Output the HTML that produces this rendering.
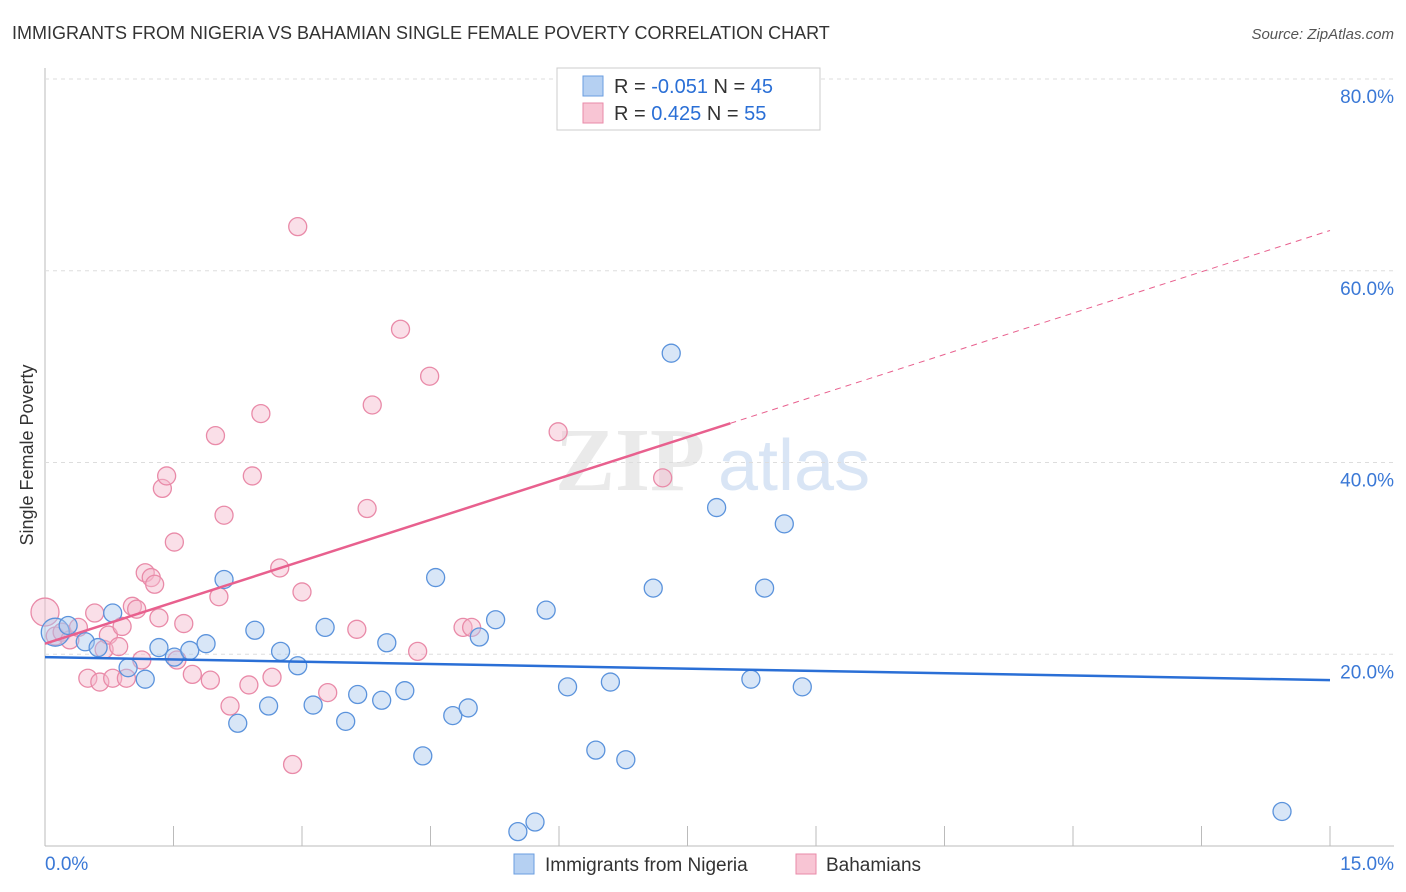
<!DOCTYPE html>
<html><head><meta charset="utf-8"><style>
body{margin:0;background:#fff;font-family:"Liberation Sans",sans-serif}
</style></head><body>
<svg id="c" width="1406" height="892" style="display:block">
<text x="12" y="39" font-size="18" fill="#333">IMMIGRANTS FROM NIGERIA VS BAHAMIAN SINGLE FEMALE POVERTY CORRELATION CHART</text>
<text x="1394" y="39" font-size="15" fill="#555" font-style="italic" text-anchor="end">Source: ZipAtlas.com</text>
<text x="33" y="455" font-size="18" fill="#333" text-anchor="middle" transform="rotate(-90 33 455)">Single Female Poverty</text>
<g><text x="555" y="490" font-size="90" fill="#ddd" font-family="Liberation Serif" font-weight="bold" opacity="0.6">ZIP</text><text x="718" y="490" font-size="72" fill="#c9dbf2" opacity="0.7">atlas</text></g>
<g id="grid"></g><g id="pts"></g><g id="trends"></g>
<g>
<rect x="557" y="68" width="263" height="62" fill="#fff" stroke="#ccc"/>
<rect x="583" y="76" width="20" height="20" fill="#b5d0f2" stroke="#6a9ee0"/>
<text x="614" y="93" font-size="20" fill="#333">R = <tspan fill="#2a6fd6">-0.051</tspan>   N = <tspan fill="#2a6fd6">45</tspan></text>
<rect x="583" y="103" width="20" height="20" fill="#f8c5d4" stroke="#e98aa8"/>
<text x="614" y="120" font-size="20" fill="#333">R =  <tspan fill="#2a6fd6">0.425</tspan>   N = <tspan fill="#2a6fd6">55</tspan></text>
</g>
<g>
<rect x="514" y="854" width="20" height="20" fill="#b5d0f2" stroke="#6a9ee0"/>
<text x="545" y="871" font-size="19" fill="#333">Immigrants from Nigeria</text>
<rect x="796" y="854" width="20" height="20" fill="#f8c5d4" stroke="#e98aa8"/>
<text x="826" y="871" font-size="19" fill="#333">Bahamians</text>
</g>
</svg>
<script>
const xTicks=[0,15];
const yTicks=[20,40,60,80];
const blueX=[0.12,0.27,0.47,0.62,0.79,0.97,1.17,1.33,1.51,1.69,1.88,2.09,2.25,2.45,2.61,2.75,2.95,3.13,3.27,3.51,3.65,3.93,3.99,4.20,4.41,4.56,4.76,4.94,5.07,5.26,5.52,5.72,5.85,6.10,6.43,6.60,6.78,7.10,7.31,7.84,8.24,8.40,8.63,8.84,14.44];
const blueY=[22.3,23.0,21.3,20.7,24.3,18.6,17.4,20.7,19.7,20.4,21.1,27.8,12.8,22.5,14.6,20.3,18.8,14.7,22.8,13.0,15.8,15.2,21.2,16.2,9.4,28.0,13.6,14.4,21.8,23.6,1.5,2.5,24.6,16.6,10.0,17.1,9.0,26.9,51.4,35.3,17.4,26.9,33.6,16.6,3.6];
const pinkX=[0.0,0.12,0.2,0.29,0.39,0.5,0.58,0.64,0.69,0.74,0.79,0.86,0.9,0.95,1.02,1.07,1.13,1.17,1.24,1.28,1.33,1.37,1.42,1.51,1.54,1.62,1.72,1.93,1.99,2.03,2.09,2.16,2.38,2.42,2.52,2.65,2.74,2.89,2.95,3.0,3.3,3.64,3.76,3.82,4.15,4.35,4.49,4.88,4.98,5.99,7.21];
const pinkY=[24.4,21.9,22.3,21.5,22.8,17.5,24.3,17.1,20.5,22.0,17.5,20.8,22.9,17.5,25.0,24.7,19.4,28.5,28.0,27.3,23.8,37.3,38.6,31.7,19.4,23.2,17.9,17.3,42.8,26.0,34.5,14.6,16.8,38.6,45.1,17.6,29.0,8.5,64.6,26.5,16.0,22.6,35.2,46.0,53.9,20.3,49.0,22.8,22.8,43.2,38.4];
const blueTrend=[-0.051,19.7,17.3];
const pinkTrend=[0.425,21.1,64.2];
const NS='http://www.w3.org/2000/svg';
const X0=45,X1=1330,Y0=846,Y80=79;
const sx=v=>X0+(X1-X0)*v/15, sy=v=>Y0-(Y0-Y80)*v/80;
function mk(t,a,p){const e=document.createElementNS(NS,t);for(const k in a)e.setAttribute(k,a[k]);p.appendChild(e);return e;}
const grid=document.getElementById('grid');
mk('line',{x1:45,y1:68,x2:45,y2:846,stroke:'#bbb'},grid);
mk('line',{x1:45,y1:846,x2:1394,y2:846,stroke:'#bbb'},grid);
for(let i=1;i<=10;i++){mk('line',{x1:sx(i*1.5),y1:826,x2:sx(i*1.5),y2:846,stroke:'#bbb'},grid);}
yTicks.forEach(v=>{const l=mk('line',{x1:45,y1:sy(v),x2:1394,y2:sy(v),stroke:'#ddd','stroke-dasharray':'4,4'},grid);

const t=mk('text',{x:1394,y:sy(v)+24,'font-size':19,fill:'#3a78d6','text-anchor':'end'},grid);t.textContent=v.toFixed(1)+'%';
});
xTicks.forEach((v,i)=>{const t=mk('text',{x:i?1394:45,y:870,'font-size':19,fill:'#3a78d6','text-anchor':i?'end':'start'},grid);t.textContent=v.toFixed(1)+'%';
});
const pts=document.getElementById('pts');
function dots(xs,ys,fill,stroke,name){xs.forEach((x,i)=>{const r=(i===0)?14:9;const c=mk('circle',{cx:sx(x),cy:sy(ys[i]),r:r,fill:fill,'fill-opacity':0.45,stroke:stroke,'stroke-width':1.3},pts);
});}
dots(pinkX,pinkY,'#f5b8cb','#e98aa8','bahamian-point');
dots(blueX,blueY,'#a9c8ee','#5b93dc','nigeria-point');
const tr=document.getElementById('trends');
let l=mk('line',{x1:sx(0),y1:sy(blueTrend[1]),x2:sx(15),y2:sy(blueTrend[2]),stroke:'#2a6fd6','stroke-width':2.5},tr);

const pAt=x=>pinkTrend[1]+(pinkTrend[2]-pinkTrend[1])*x/15;
l=mk('line',{x1:sx(0),y1:sy(pAt(0)),x2:sx(8),y2:sy(pAt(8)),stroke:'#e8608e','stroke-width':2.5},tr);

l=mk('line',{x1:sx(8),y1:sy(pAt(8)),x2:sx(15),y2:sy(pAt(15)),stroke:'#e8608e','stroke-width':1,'stroke-dasharray':'6,5'},tr);

</script>
</body></html>
